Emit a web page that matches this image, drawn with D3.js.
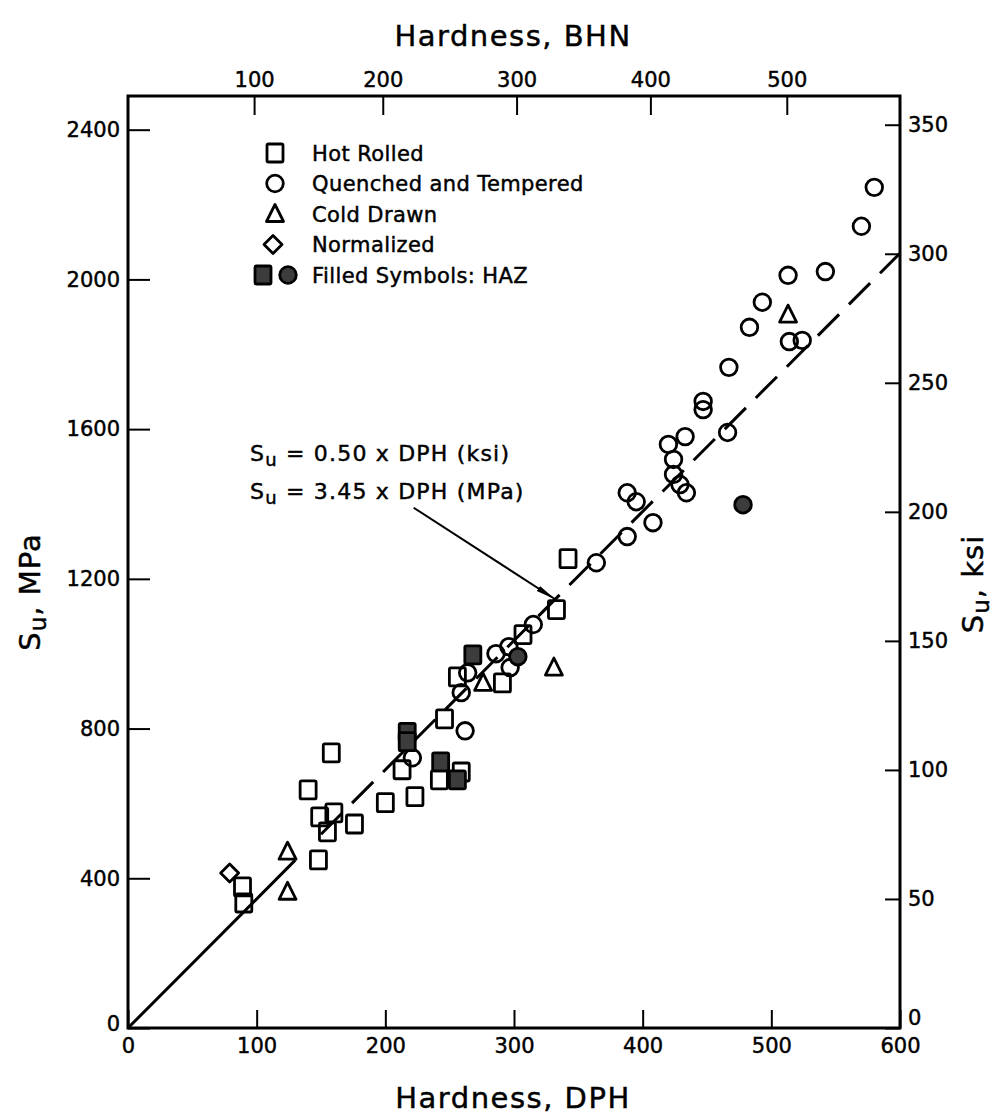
<!DOCTYPE html>
<html><head><meta charset="utf-8">
<script src="https://cdn.jsdelivr.net/npm/d3@7"></script>
<style>
body{margin:0;background:#fff;}
svg text{font-family:"DejaVu Sans",sans-serif;fill:#000;stroke:#000;stroke-width:0.45px;}
</style></head>
<body>
<svg id="c" width="997" height="1118"></svg>
<script>
// ---- data (DPH hardness, Su in MPa) ----
const hotRolled = [[89,377],[90,334],[140,636],[158,735],[149,564],[160,575],[155,524],[176,545],[148,449],[200,602],[223,618],[213,690],[242,663],[259,684],[246,826],[256,938],[291,922],[307,1051],[333,1118],[342,1254]];
const quenched = [[221,722],[262,794],[259,896],[264,949],[286,1000],[296,1019],[297,963],[315,1078],[364,1243],[388,1313],[408,1350],[388,1430],[395,1406],[420,1559],[424,1519],[424,1479],[429,1452],[434,1430],[433,1580],[447,1674],[447,1652],[466,1591],[467,1765],[483,1872],[493,1939],[513,2011],[514,1834],[524,1837],[542,2021],[570,2142],[580,2246]];
const coldDrawn = [[124,471],[124,364],[276,922],[331,963],[513,1906]];
const normalized = [[79,414]];
const hazSquares = [[268,997],[217,790],[217,765],[243,711],[256,663]];
const hazCircles = [[303,992],[478,1398]];
const dphTicks = [0,100,200,300,400,500,600];
const mpaTicks = [0,400,800,1200,1600,2000,2400];
const ksiTicks = [0,50,100,150,200,250,300,350];
const bhnTicks = [100,200,300,400,500];
const bhnAsDph = [98,198,302,406,512];
const fitSlopeMPa = 3.45;
const legendItems = ["Hot Rolled","Quenched and Tempered","Cold Drawn","Normalized","Filled Symbols: HAZ"];

const svg = d3.select("#c");
const L=128,R=900,T=96,B=1028;
const x = d3.scaleLinear().domain([0,600]).range([L,R]);
const y = d3.scaleLinear().domain([0,2490]).range([B,T]);
const yK = d3.scaleLinear().domain([0,2490/6.895]).range([B,T]);
const xB = d3.scaleLinear().domain(bhnTicks).range(bhnAsDph.map(d=>x(d)));

const FS=21;
function styleAxis(g){
  g.select(".domain").remove();
  g.selectAll(".tick line").attr("stroke","#000").attr("stroke-width",2);
  g.selectAll(".tick text").style("font-size",FS+"px").attr("fill","#000");
}
svg.append("g").attr("transform",`translate(0,${B})`)
  .call(d3.axisBottom(x).tickValues(dphTicks).tickSize(-18).tickPadding(10).tickFormat(d3.format("d"))).call(styleAxis);
svg.append("g").attr("transform",`translate(0,${T})`)
  .call(d3.axisTop(xB).tickValues(bhnTicks).tickSize(-19).tickPadding(9).tickFormat(d3.format("d"))).call(styleAxis);
svg.append("g").attr("transform",`translate(${L},0)`)
  .call(d3.axisLeft(y).tickValues(mpaTicks).tickSize(-22).tickPadding(8).tickFormat(d3.format("d"))).call(styleAxis)
  .selectAll(".tick text").filter(d=>d===0).attr("dy","0.1em");
svg.append("g").attr("transform",`translate(${R},0)`)
  .call(d3.axisRight(yK).tickValues(ksiTicks).tickSize(-15).tickPadding(8).tickFormat(d3.format("d"))).call(styleAxis)
  .selectAll(".tick text").filter(d=>d===0).attr("dy","-0.15em");

svg.append("rect").attr("x",L).attr("y",T).attr("width",R-L).attr("height",B-T)
  .attr("fill","none").attr("stroke","#000").attr("stroke-width",3);

// fit line
const line = d3.line().x(d=>x(d)).y(d=>y(fitSlopeMPa*d));
svg.append("path").attr("d",line([0,130])).attr("stroke","#000").attr("stroke-width",3).attr("fill","none");
svg.append("path").attr("d",line([150,600])).attr("stroke","#000").attr("stroke-width",3).attr("fill","none")
  .attr("stroke-dasharray","30,14");

// symbols
const SW=2.8;
function sq(g,cx,cy,fill){g.append("rect").attr("x",cx-8).attr("y",cy-9).attr("width",16).attr("height",18).attr("rx",1.5)
  .attr("fill",fill||"none").attr("stroke","#000").attr("stroke-width",SW);}
function ci(g,cx,cy,fill){g.append("circle").attr("cx",cx).attr("cy",cy).attr("r",8.3)
  .attr("fill",fill||"none").attr("stroke","#000").attr("stroke-width",SW);}
function tri(g,cx,cy){g.append("path").attr("d",`M${cx},${cy-9.5}L${cx+8.5},${cy+7.5}L${cx-8.5},${cy+7.5}Z`)
  .attr("fill","none").attr("stroke","#000").attr("stroke-width",SW).attr("stroke-linejoin","round");}
function dia(g,cx,cy){g.append("path").attr("d",`M${cx},${cy-9}L${cx+9},${cy}L${cx},${cy+9}L${cx-9},${cy}Z`)
  .attr("fill","none").attr("stroke","#000").attr("stroke-width",SW).attr("stroke-linejoin","round");}

const pg = svg.append("g");
hotRolled.forEach(d=>sq(pg,x(d[0]),y(d[1])));
quenched.forEach(d=>ci(pg,x(d[0]),y(d[1])));
coldDrawn.forEach(d=>tri(pg,x(d[0]),y(d[1])));
normalized.forEach(d=>dia(pg,x(d[0]),y(d[1])));
hazSquares.forEach(d=>sq(pg,x(d[0]),y(d[1]),"#3c3c3c"));
hazCircles.forEach(d=>ci(pg,x(d[0]),y(d[1]),"#3c3c3c"));

// legend
const lg = svg.append("g");
const ly0=153, ldy=30.5;
sq(lg,275,ly0); ci(lg,275,ly0+ldy); tri(lg,275,ly0+2*ldy); dia(lg,273,ly0+3*ldy);
sq(lg,263,ly0+4*ldy,"#3c3c3c"); ci(lg,288,ly0+4*ldy,"#3c3c3c");
legendItems.forEach((t,i)=>lg.append("text").attr("x",312).attr("y",ly0+i*ldy).attr("dy","0.36em")
  .style("font-size",FS+"px").style("letter-spacing","0.4px").text(t));

// annotation
function su(rest, xx, yy){
  const t=svg.append("text").attr("x",xx).attr("y",yy).style("font-size","22px").style("letter-spacing","1.2px");
  t.append("tspan").text("S");
  t.append("tspan").attr("dy",5).style("font-size","18px").text("u");
  t.append("tspan").attr("dy",-5).text(rest);
}
su(" = 0.50 x DPH (ksi)",250,461);
su(" = 3.45 x DPH (MPa)",250,499);
const ax0=x(222), ay0=y(1390), ax1=x(332), ay1=y(fitSlopeMPa*332);
svg.append("defs").append("marker").attr("id","ah").attr("viewBox","0 0 20 8").attr("refX",20).attr("refY",4)
  .attr("markerWidth",20).attr("markerHeight",8).attr("markerUnits","userSpaceOnUse").attr("orient","auto")
  .append("path").attr("d","M0,1L20,4L0,7Z").attr("fill","#000");
svg.append("line").attr("x1",ax0).attr("y1",ay0).attr("x2",ax1).attr("y2",ay1)
  .attr("stroke","#000").attr("stroke-width",2).attr("marker-end","url(#ah)");

// axis titles
svg.append("text").attr("x",513).attr("y",46).attr("text-anchor","middle").style("font-size","29px").style("letter-spacing","1.5px").text("Hardness, BHN");
svg.append("text").attr("x",513).attr("y",1108).attr("text-anchor","middle").style("font-size","29px").style("letter-spacing","1.5px").text("Hardness, DPH");
function vlab(cx,cy,rest){
  const t=svg.append("text").attr("transform",`translate(${cx},${cy}) rotate(-90)`).attr("text-anchor","middle")
    .style("font-size","29px").style("letter-spacing","1px");
  t.append("tspan").text("S");
  t.append("tspan").attr("dy",6).style("font-size","23px").text("u");
  t.append("tspan").attr("dy",-6).text(rest);
}
vlab(40,592,", MPa");
vlab(983,584,", ksi");
</script>
</body></html>
